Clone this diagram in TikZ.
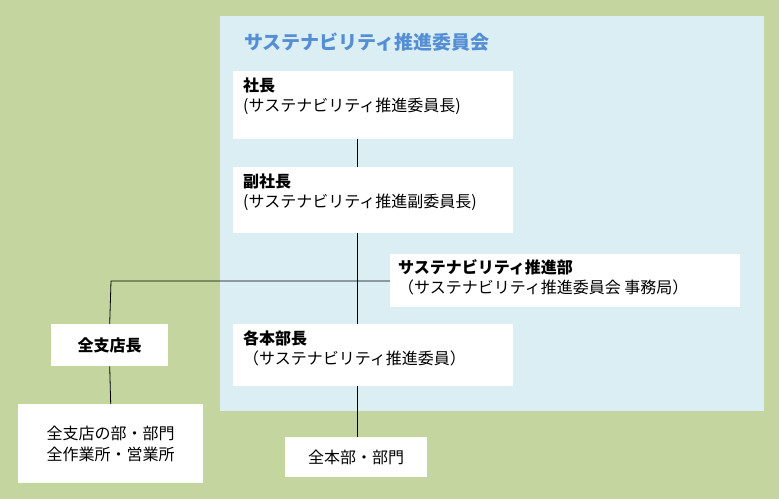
\documentclass[tikz,border=0pt]{standalone}
\usepackage{fontspec}
\setmainfont{Noto Sans CJK JP}
\definecolor{bggreen}{HTML}{C4D59F}
\definecolor{panel}{HTML}{DAEEF3}
\definecolor{titleblue}{HTML}{558ED5}
\begin{document}
\begin{tikzpicture}[x=1pt,y=-1pt,
  box/.style={fill=white,draw=none,inner sep=0pt},
  txt/.style={font=\fontsize{16}{20}\selectfont,align=left,anchor=north west,inner sep=0pt},
  ln/.style={draw=black,line width=0.8pt}]
\fill[bggreen] (0,0) rectangle (779,499);
\useasboundingbox (0,0) rectangle (779,499);
\fill[panel] (220,16) rectangle (764,411);
\node[txt,text=titleblue,font=\fontsize{19}{22}\selectfont\bfseries] (title) at (244,33) {サステナビリティ推進委員会};
\node[box,minimum width=280,minimum height=68,anchor=north west] (ceo) at (233,71) {};
\node[txt] at (243,78) {\textbf{社長}\\(サステナビリティ推進委員長)};
\node[box,minimum width=280,minimum height=66,anchor=north west] (vp) at (233,167) {};
\node[txt] at (243,174) {\textbf{副社長}\\(サステナビリティ推進副委員長)};
\node[box,minimum width=350,minimum height=53,anchor=north west] (dept) at (390,254) {};
\node[txt] at (398,259) {\textbf{サステナビリティ推進部}\\（サステナビリティ推進委員会 事務局）};
\node[box,minimum width=280,minimum height=62,anchor=north west] (hq) at (233,324) {};
\node[txt] at (243,330) {\textbf{各本部長}\\（サステナビリティ推進委員）};
\node[box,minimum width=117,minimum height=42,anchor=north west,font=\fontsize{16}{20}\selectfont\bfseries] (br) at (51,324) {全支店長};
\node[box,minimum width=185,minimum height=79,anchor=north west,align=center,font=\fontsize{16}{21}\selectfont] (brd) at (18,404) {全支店の部・部門\\全作業所・営業所};
\node[box,minimum width=142,minimum height=40,anchor=north west,font=\fontsize{16}{20}\selectfont] (hqd) at (285,437) {全本部・部門};
\coordinate (j) at (357,281);
\coordinate (jl) at (111,281);
\draw[ln] (357,139) -- (357,167);
\draw[ln] (357,233) -- (357,324);
\draw[ln] (357,386) -- (357,437);
\draw[ln] (dept.west |- j) -- (jl) -- (br.north);
\draw[ln] (br.south) -- (brd.north);
\end{tikzpicture}
\end{document}
